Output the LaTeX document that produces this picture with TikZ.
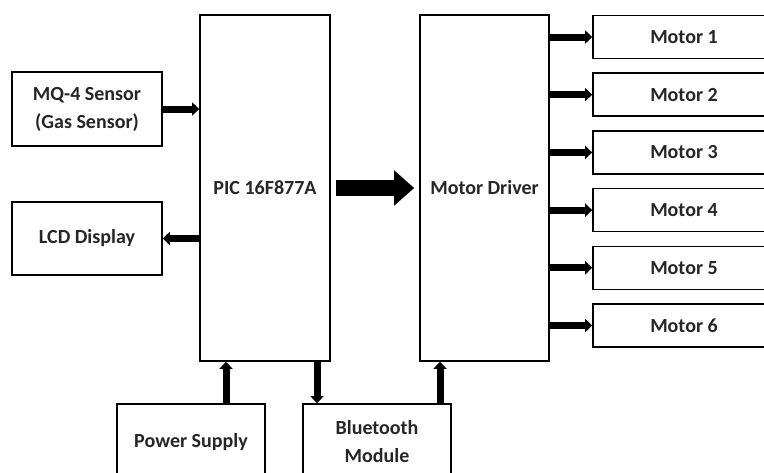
\documentclass[tikz,border=0pt]{standalone}
\usepackage{fontspec}
\setmainfont{Carlito}
\usetikzlibrary{arrows.meta}

\begin{document}
\begin{tikzpicture}[x=1pt,y=-1pt,
  block/.style={draw=black, line width=1.6pt, fill=white, align=center,
    inner sep=0pt, font=\fontsize{20}{28}\selectfont\bfseries, text=black!85},
  arr/.style={line width=7pt, -{Triangle[length=7pt,width=13pt]}},
  bigarr/.style={line width=16pt, -{Triangle[length=20pt,width=34pt]}}]

\useasboundingbox (0,0) rectangle (764,472);
\clip (0,0) rectangle (764,472);

% Sensor and display on the left
\node[block, minimum width=150pt, minimum height=74pt] (mq) at (87,109) {MQ-4 Sensor\\(Gas Sensor)};
\node[block, minimum width=150pt, minimum height=73pt] (lcd) at (87,238.5) {LCD Display};

% Controller and driver
\node[block, minimum width=130pt, minimum height=346pt] (pic) at (265,188) {PIC 16F877A};
\node[block, minimum width=129pt, minimum height=346pt] (drv) at (484.5,188) {Motor Driver};

% The six motors
\foreach \i in {1,...,6}
  \node[block, minimum width=182pt, minimum height=43pt] (m\i) at (684,{37+57.7*(\i-1)}) {Motor \i};

% Supply and bluetooth at the bottom
\node[block, minimum width=148pt, minimum height=76pt] (power) at (191,442) {Power Supply};
\node[block, minimum width=148pt, minimum height=76pt] (bt) at (377,442) {Bluetooth\\Module};

% Connections
\draw[arr] (mq.east) -- (pic.west |- mq.east);
\draw[arr] (pic.west |- lcd.east) -- (lcd.east);
\draw[bigarr] ([xshift=5pt]pic.east) -- ([xshift=-5pt]drv.west);
\foreach \i in {1,...,6}
  \draw[arr] (drv.east |- m\i.west) -- (m\i.west);
\draw[arr] ([xshift=35pt]power.north) -- ([xshift=35pt]power.north |- pic.south);
\draw[arr] ([xshift=-60pt]bt.north |- pic.south) -- ([xshift=-60pt]bt.north);
\draw[arr] ([xshift=63pt]bt.north) -- ([xshift=63pt]bt.north |- drv.south);
\end{tikzpicture}
\end{document}
